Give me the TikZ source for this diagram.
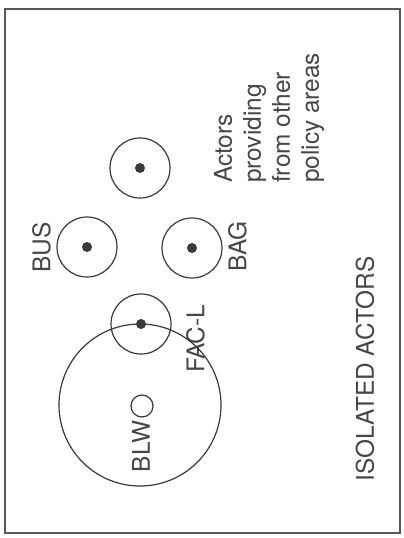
\documentclass[tikz,border=0pt]{standalone}
\usepackage{fontspec}
\setmainfont{TeX Gyre Heros}
\definecolor{ink}{HTML}{3A3A3A}
\definecolor{textink}{HTML}{474747}
\tikzset{
  actor/.style={circle, draw=ink, line width=1.2pt, minimum size=60pt, inner sep=0pt},
  core/.style={circle, fill=ink, minimum size=10pt, inner sep=0pt},
  label/.style={rotate=90, inner sep=0pt, text=textink, font=\fontsize{24.4}{29}\selectfont},
  frame/.style={draw=ink!85, line width=2pt}
}
\begin{document}
\begin{tikzpicture}[x=1pt, y=-1pt]
  % canvas and outer frame
  \fill[white] (0,0) rectangle (404,538);
  \useasboundingbox (0,0) rectangle (404,538);
  \draw[frame] (5,9) rectangle (400,533);

  % actors from other policy areas
  \node[actor] (other) at (140,168) {};
  \node[core] (otherdot) at (other.center) {};
  \node[label, anchor=north west, align=left] (othertext) at (214,183)
    {Actors\\providing\\from other\\policy areas};

  % BUS and BAG
  \node[actor] (bus) at (87,247) {};
  \node[core] (busdot) at (bus.center) {};
  \node[label] (buslabel) at (41.5,247.5) {BUS};

  \node[actor] (bag) at (192,248) {};
  \node[core] (bagdot) at (bag.center) {};
  \node[label] (baglabel) at (237.5,246.5) {BAG};

  % FAC-L overlapping the BLW domain
  \node[actor] (facl) at (141,324) {};
  \node[core] (facldot) at (facl.center) {};
  \node[label] (facllabel) at (195.5,339) {FAC-L};

  \node[actor, minimum size=162pt] (domain) at (140,405) {};
  \node[actor, minimum size=22pt] (blw) at (142,406) {};
  \node[label] (blwlabel) at (141,446.5) {BLW};

  % caption
  \node[label] (caption) at (365,369) {ISOLATED ACTORS};
\end{tikzpicture}
\end{document}
